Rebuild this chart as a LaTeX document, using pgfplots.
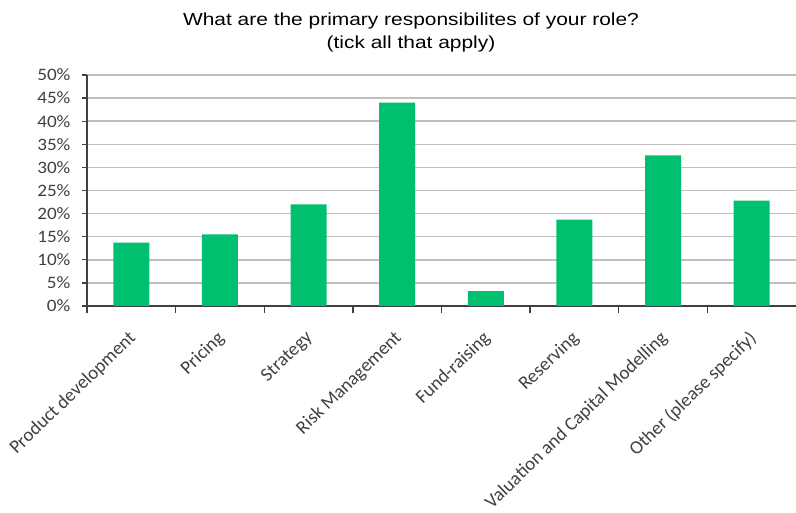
\documentclass[border=0pt]{standalone}
\usepackage{fontspec}
\setmainfont{Carlito}
\newfontfamily\titlefont{Liberation Sans}
\usepackage{pgfplots}
\pgfplotsset{compat=1.18}
\definecolor{bargreen}{RGB}{0,191,111}
\definecolor{gridgray}{RGB}{191,191,191}
\definecolor{axisgray}{RGB}{64,64,64}
\definecolor{textgray}{RGB}{64,64,64}
\begin{document}
\begin{tikzpicture}
\begin{axis}[
  at={(87bp,207bp)}, anchor=south west,
  scale only axis, width=709bp, height=231bp,
  ymin=0, ymax=50, ytick={0,5,...,50},
  xmin=-0.5, xmax=7.5,
  xtick={0,...,7},
  xticklabels={Product development,Pricing,Strategy,Risk Management,Fund-raising,Reserving,Valuation and Capital Modelling,Other (please specify)},
  minor xtick={-0.5,0.5,...,6.5},
  axis x line*=bottom, axis y line*=left,
  axis line style={-, axisgray, line width=1.4bp},
  ymajorgrids, grid style={gridgray, line width=1.5bp},
  tick align=outside,
  major tick length=5bp, minor tick length=7bp,
  major x tick style={draw=none},
  major y tick style={axisgray, line width=1.3bp},
  minor x tick style={axisgray, line width=1.3bp},
  yticklabel={\pgfmathprintnumber{\tick}\%},
  /pgf/number format/assume math mode=true,
  tick label style={text=textgray},
  yticklabel style={font=\fontsize{17.5}{21}\selectfont, xscale=1.1, xshift=-7bp},
  xticklabel style={font=\fontsize{19}{22}\selectfont, xshift=-4bp, yshift=-17bp, rotate=44, anchor=north east, inner sep=1bp},
  ybar, bar width=36bp,
  title={What are the primary responsibilites of your role?\\(tick all that apply)},
  title style={at={(axis description cs:0.457,1)}, anchor=south, yshift=13bp, align=center, font=\titlefont\fontsize{17.5}{23}\selectfont, xscale=1.2, text=black},
]
\addplot[fill=bargreen, draw=none] coordinates {
  (0,13.7) (1,15.5) (2,22.0) (3,44.0) (4,3.2) (5,18.7) (6,32.6) (7,22.8)
};
\end{axis}
\pgfresetboundingbox
\path[use as bounding box] (0,0) rectangle (796bp,513bp);
\end{tikzpicture}
\end{document}
